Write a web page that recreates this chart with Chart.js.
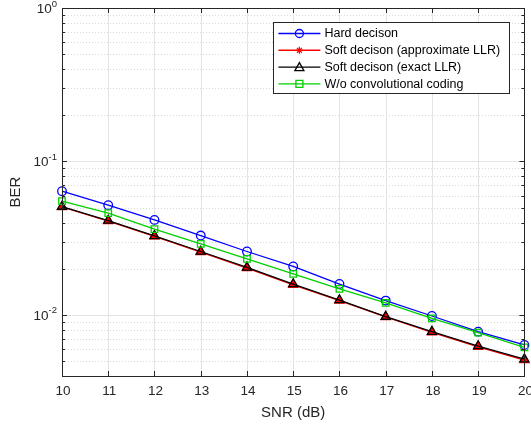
<!DOCTYPE html>
<html>
<head>
<meta charset="utf-8">
<script src="https://cdn.jsdelivr.net/npm/chart.js@4"></script>
<style>
  html, body { margin: 0; padding: 0; background: #fff; }
  #wrap { width: 531px; height: 426px; }
</style>
</head>
<body>
<div id="wrap"><canvas id="ber-chart" width="531" height="426"></canvas></div>
<script>
// SNR in dB
var snr = [10, 11, 12, 13, 14, 15, 16, 17, 18, 19, 20];
// BER curves
var hardDecision = [0.064, 0.0519, 0.0416, 0.0329, 0.0259, 0.0207, 0.0159, 0.0124, 0.00984, 0.00778, 0.00637];
var softApprox = [0.0505, 0.0409, 0.0325, 0.0257, 0.0202, 0.0157, 0.0124, 0.0097, 0.00770, 0.00620, 0.00508];
var softExact = [0.0508, 0.0412, 0.0327, 0.0259, 0.0204, 0.0159, 0.0125, 0.00975, 0.00778, 0.00627, 0.00515];
var uncoded = [0.0551, 0.0460, 0.0362, 0.0290, 0.0232, 0.0185, 0.0148, 0.0120, 0.0095, 0.00766, 0.00615];
var labels = ["Hard decison", "Soft decison (approximate LLR)", "Soft decison (exact LLR)", "W/o convolutional coding"];
var yTicks = [1, 0.1, 0.01];
var yTickExp = ["0", "-1", "-2"];

var AXIS = "#262626";
var FONT = "'Liberation Sans', Arial, Helvetica, sans-serif";
var GREEN = "#00d000";

function pts(ys) {
    return snr.map(function (x, i) { return {x: x, y: ys[i]}; });
}

function marker(ctx, style, x, y, color) {
    ctx.save();
    ctx.strokeStyle = color;
    ctx.lineWidth = 1.3;
    ctx.beginPath();
    if (style == "circle") {
        ctx.arc(x, y, 4, 0, Math.PI * 2);
        ctx.stroke();
    } else if (style == "rect") {
        ctx.rect(x - 3.5, y - 3.5, 7, 7);
        ctx.stroke();
    } else if (style == "triangle") {
        ctx.moveTo(x, y - 4.5);
        ctx.lineTo(x + 4.5, y + 3.5);
        ctx.lineTo(x - 4.5, y + 3.5);
        ctx.closePath();
        ctx.stroke();
    } else if (style == "star") {
        for (var k = 0; k < 4; k++) {
            var a = k * Math.PI / 4;
            ctx.moveTo(x - 3.5 * Math.cos(a), y - 3.5 * Math.sin(a));
            ctx.lineTo(x + 3.5 * Math.cos(a), y + 3.5 * Math.sin(a));
        }
        ctx.lineWidth = 1.2;
        ctx.stroke();
    }
    ctx.restore();
}

var matlabAxes = {
    id: "matlabAxes",
    beforeDatasetsDraw: function (chart) {
        var ctx = chart.ctx, a = chart.chartArea;
        var xs = chart.scales.x, ys = chart.scales.y;
        ctx.save();
        // minor grid (dotted)
        ctx.strokeStyle = "#d9d9d9";
        ctx.lineWidth = 1;
        ctx.setLineDash([1, 2]);
        [0.001, 0.01, 0.1].forEach(function (d) {
            for (var m = 2; m <= 9; m++) {
                var v = d * m;
                if (v < ys.min || v > ys.max) continue;
                var py = Math.round(ys.getPixelForValue(v)) + 0.5;
                ctx.beginPath(); ctx.moveTo(a.left, py); ctx.lineTo(a.right, py); ctx.stroke();
            }
        });
        ctx.setLineDash([]);
        // major grid
        ctx.strokeStyle = "#e3e3e3";
        snr.forEach(function (v) {
            var px = Math.round(xs.getPixelForValue(v)) + 0.5;
            ctx.beginPath(); ctx.moveTo(px, a.top); ctx.lineTo(px, a.bottom); ctx.stroke();
        });
        yTicks.forEach(function (v) {
            var py = Math.round(ys.getPixelForValue(v)) + 0.5;
            ctx.beginPath(); ctx.moveTo(a.left, py); ctx.lineTo(a.right, py); ctx.stroke();
        });
        ctx.restore();
    },
    afterDatasetsDraw: function (chart) {
        var ctx = chart.ctx, a = chart.chartArea;
        var xs = chart.scales.x, ys = chart.scales.y;
        ctx.save();
        ctx.strokeStyle = AXIS;
        ctx.lineWidth = 1;
        // box
        ctx.strokeRect(Math.round(a.left) + 0.5, Math.round(a.top) + 0.5,
            Math.round(a.right - a.left), Math.round(a.bottom - a.top));
        // x ticks, inward, bottom and top
        snr.forEach(function (v) {
            var px = Math.round(xs.getPixelForValue(v)) + 0.5;
            ctx.beginPath();
            ctx.moveTo(px, a.bottom); ctx.lineTo(px, a.bottom - 5);
            ctx.moveTo(px, a.top); ctx.lineTo(px, a.top + 5);
            ctx.stroke();
        });
        // y ticks major and minor
        [0.001, 0.01, 0.1, 1].forEach(function (d) {
            for (var m = 1; m <= 9; m++) {
                var v = d * m;
                if (v < ys.min || v > ys.max) continue;
                var len = m == 1 ? 5 : 3;
                var py = Math.round(ys.getPixelForValue(v)) + 0.5;
                ctx.beginPath();
                ctx.moveTo(a.left, py); ctx.lineTo(a.left + len, py);
                ctx.moveTo(a.right, py); ctx.lineTo(a.right - len, py);
                ctx.stroke();
            }
        });
        // x tick labels
        ctx.fillStyle = AXIS;
        ctx.font = "13.5px " + FONT;
        ctx.textAlign = "center";
        ctx.textBaseline = "middle";
        snr.forEach(function (v) {
            ctx.fillText(String(v), xs.getPixelForValue(v) + 1, a.bottom + 15);
        });
        // y tick labels 10^n
        ctx.textBaseline = "alphabetic";
        ctx.textAlign = "left";
        yTicks.forEach(function (v, i) {
            var py = ys.getPixelForValue(v);
            ctx.font = "9.5px " + FONT;
            var sw = ctx.measureText(yTickExp[i]).width;
            ctx.font = "13.5px " + FONT;
            var bw = ctx.measureText("10").width;
            var x0 = a.left - 5 - sw - bw;
            ctx.fillText("10", x0, py + 5);
            ctx.font = "9.5px " + FONT;
            ctx.fillText(yTickExp[i], x0 + bw, py - 1.5);
        });
        // axis titles
        ctx.font = "15px " + FONT;
        ctx.textAlign = "center";
        ctx.textBaseline = "middle";
        ctx.fillText("SNR (dB)", (a.left + a.right) / 2, a.bottom + 37);
        ctx.save();
        ctx.translate(16, (a.top + a.bottom) / 2);
        ctx.rotate(-Math.PI / 2);
        ctx.fillText("BER", 0, 0);
        ctx.restore();

        // legend box inside plot, top right
        var lx = a.right - 251, ly = a.top + 14, lw = 236, lh = 71;
        ctx.fillStyle = "#fff";
        ctx.fillRect(lx, ly, lw, lh);
        ctx.strokeStyle = AXIS;
        ctx.lineWidth = 1;
        ctx.strokeRect(Math.round(lx) + 0.5, Math.round(ly) + 0.5, lw, lh);
        var styles = ["circle", "star", "triangle", "rect"];
        var colors = ["#0000ff", "#ff0000", "#000000", GREEN];
        ctx.font = "12.5px " + FONT;
        ctx.textAlign = "left";
        for (var k = 0; k < 4; k++) {
            var ry = ly + 11.5 + k * 16.8;
            ctx.strokeStyle = colors[k];
            ctx.lineWidth = 1.4;
            ctx.beginPath(); ctx.moveTo(lx + 5, ry); ctx.lineTo(lx + 47, ry); ctx.stroke();
            marker(ctx, styles[k], lx + 26, ry, colors[k]);
            ctx.fillStyle = "#000";
            ctx.fillText(labels[k], lx + 51, ry + 0.5);
        }
        ctx.restore();
    }
};

var chart = new Chart(document.getElementById("ber-chart"), {
    type: "line",
    data: {
        datasets: [{
            label: labels[0],
            data: pts(hardDecision),
            borderColor: "#0000ff",
            backgroundColor: "rgba(0,0,0,0)",
            pointStyle: "circle",
            pointRadius: 4.3,
            pointBorderWidth: 1.3,
            order: 3
        }, {
            label: labels[1],
            data: pts(softApprox),
            borderColor: "#ff0000",
            backgroundColor: "#ff0000",
            pointStyle: "triangle",
            pointRadius: 5,
            pointBorderWidth: 1.5,
            order: 2
        }, {
            label: labels[2],
            data: pts(softExact),
            borderColor: "#000000",
            backgroundColor: "rgba(0,0,0,0)",
            pointStyle: "triangle",
            pointRadius: 5.3,
            pointBorderWidth: 1.3,
            order: 1
        }, {
            label: labels[3],
            data: pts(uncoded),
            borderColor: GREEN,
            backgroundColor: "rgba(0,0,0,0)",
            pointStyle: "rect",
            pointRadius: 4.6,
            pointBorderWidth: 1.3,
            order: 0
        }]
    },
    options: {
        responsive: false,
        animation: false,
        layout: { padding: { top: 8, right: 0, left: 0, bottom: 0 } },
        elements: { line: { borderWidth: 1.3, tension: 0, fill: false } },
        datasets: { line: { clip: false } },
        plugins: { legend: { display: false }, tooltip: { enabled: false } },
        scales: {
            x: {
                type: "linear", min: 10, max: 20,
                ticks: { display: false, stepSize: 1 },
                grid: { display: false },
                border: { display: false },
                afterFit: function (s) { s.height = 50; }
            },
            y: {
                type: "logarithmic", min: 0.004, max: 1,
                ticks: { display: false },
                grid: { display: false },
                border: { display: false },
                afterFit: function (s) { s.width = 62; }
            }
        }
    },
    plugins: [matlabAxes]
});
</script>
</body>
</html>
